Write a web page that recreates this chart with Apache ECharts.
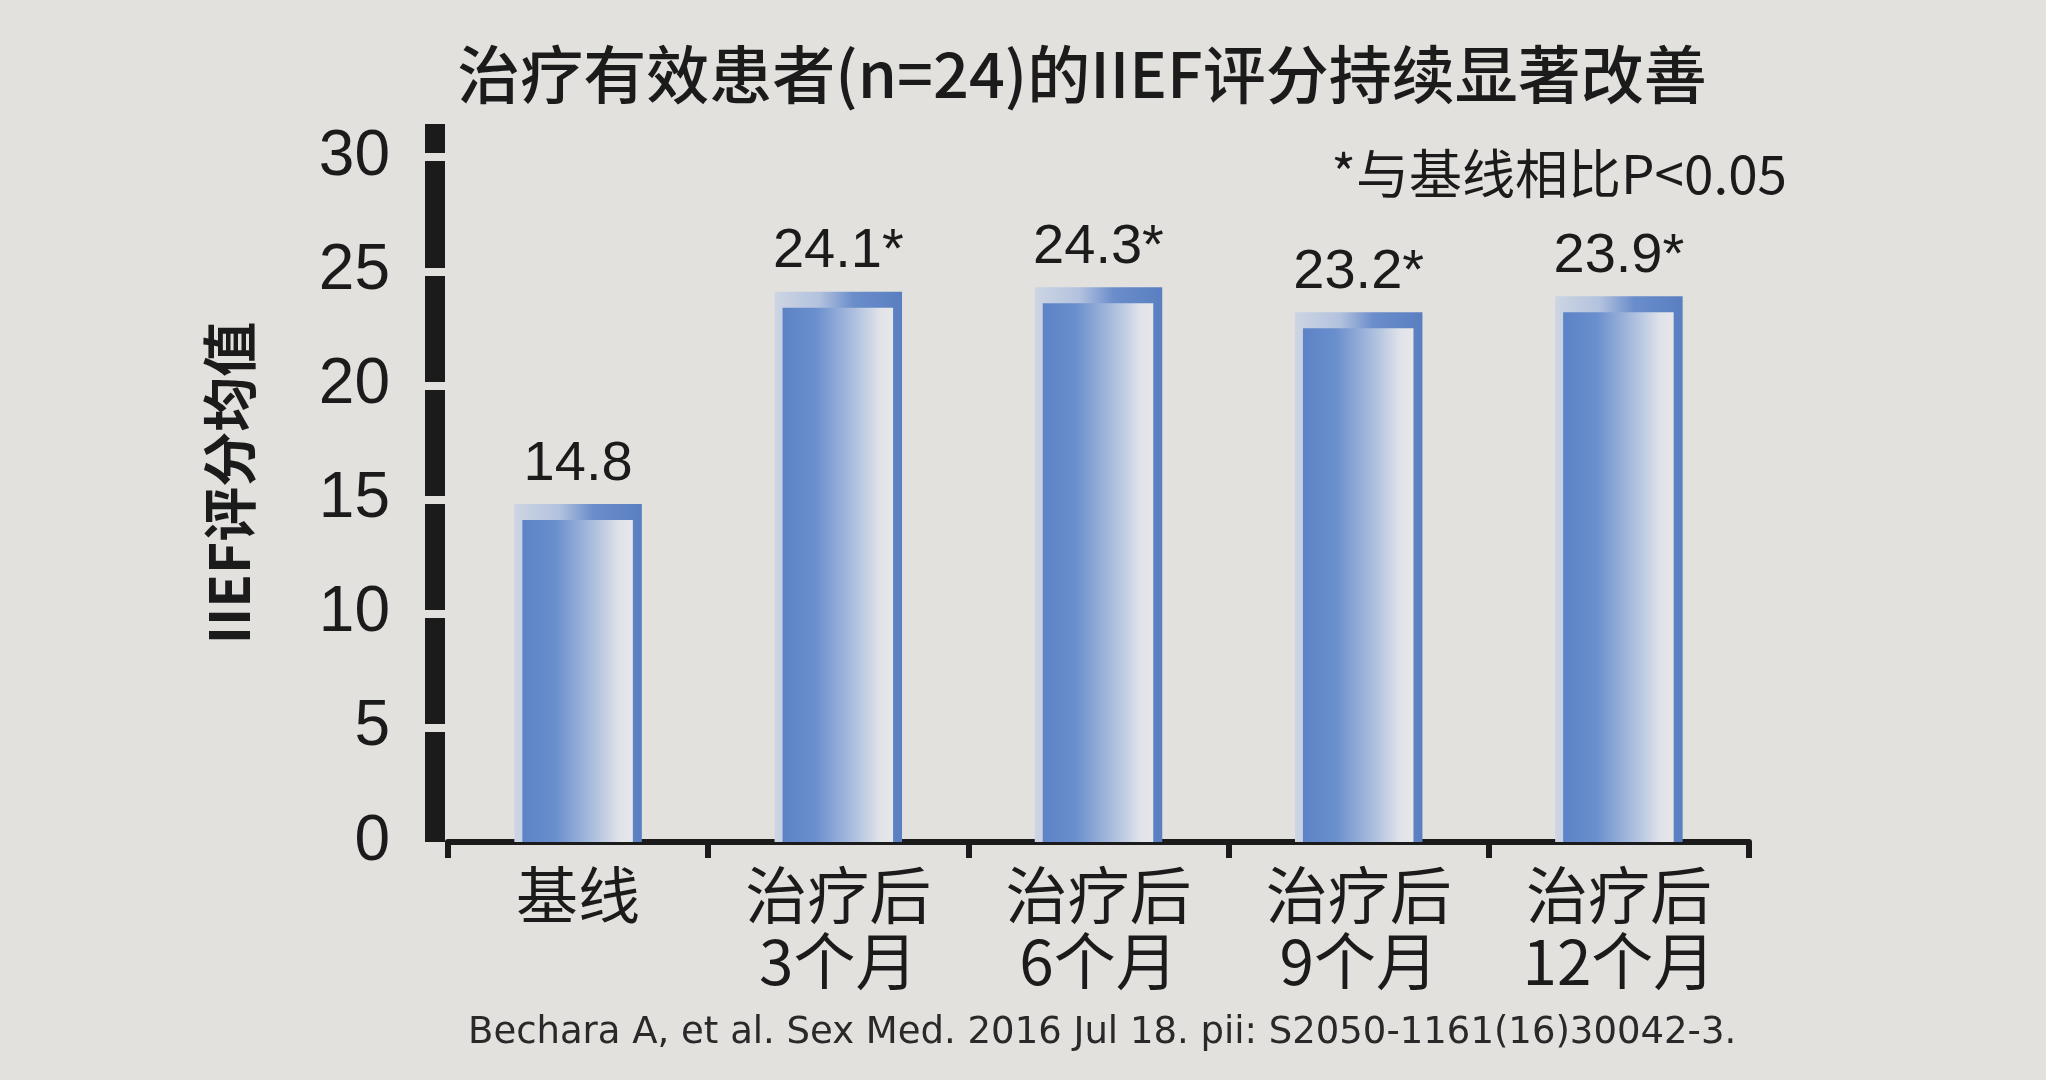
<!DOCTYPE html>
<html>
<head>
    <meta charset="utf-8">
    <title>IIEF评分</title>
    <script src="https://cdn.jsdelivr.net/npm/echarts@6/dist/echarts.min.js"></script>
    <style>
        html, body { margin: 0; padding: 0; background: #e3e1de; }
    </style>
</head>
<body>
    <div id="main" style="width: 2046px;height:1080px;"></div>
    <script type="text/javascript">
        // 数据
        var categories = ['基线', '治疗后\n3个月', '治疗后\n6个月', '治疗后\n9个月', '治疗后\n12个月'];
        var values = [14.8, 24.1, 24.3, 23.2, 23.9];
        var marks = ['', '*', '*', '*', '*'];   // 与基线相比 P<0.05
        var yTicks = [0, 5, 10, 15, 20, 25, 30];

        var bg = '#e3e1de';
        var ink = '#1c1b1b';

        var outerFill = new echarts.graphic.LinearGradient(0, 0, 1, 0, [
            { offset: 0, color: '#cdd5e3' },
            { offset: 0.35, color: '#b3c2de' },
            { offset: 0.62, color: '#6a8dcb' },
            { offset: 1, color: '#5a7fc1' }
        ]);
        var innerFill = new echarts.graphic.LinearGradient(0, 0, 1, 0, [
            { offset: 0, color: '#5c83c7' },
            { offset: 0.3, color: '#6a8fcd' },
            { offset: 0.68, color: '#b4c4e0' },
            { offset: 0.88, color: '#e0e3e9' },
            { offset: 1, color: '#e6e7ea' }
        ]);

        // 柱子：外框 + 内部渐变
        function renderBar(params, api) {
            var base = api.coord([api.value(0), 0]);
            var top = api.coord([api.value(0), api.value(1)]);
            var w = api.size([1, 0])[0] * 0.49;
            var x = base[0] - w / 2;
            var h = base[1] - top[1];
            return {
                type: 'group',
                children: [
                    { type: 'rect', shape: { x: x, y: top[1], width: w, height: h }, style: { fill: outerFill } },
                    { type: 'rect', shape: { x: x + 8, y: top[1] + 16, width: w - 17, height: h - 16 }, style: { fill: innerFill } }
                ]
            };
        }

        var myChart = echarts.init(document.getElementById('main'));
        myChart.setOption({
            backgroundColor: bg,
            animation: false,
            title: [{
                text: '治疗有效患者(n=24)的IIEF评分持续显著改善',
                left: 1077,
                textAlign: 'center',
                top: 38,
                textStyle: { fontFamily: 'Noto Sans CJK SC', fontSize: 63, fontWeight: 500, color: ink }
            }, {
                text: '*与基线相比P<0.05',
                right: 254,
                top: 142,
                textStyle: { fontFamily: 'Noto Sans CJK SC', fontSize: 53, fontWeight: 'normal', color: ink }
            }, {
                text: 'Bechara A, et al. Sex Med. 2016 Jul 18. pii: S2050-1161(16)30042-3.',
                left: 463,
                top: 1010,
                textStyle: { fontFamily: 'DejaVu Sans', fontSize: 37, fontWeight: 'normal', color: '#2a2929' }
            }],
            grid: { left: 448, right: 297, top: 124, bottom: 238 },
            xAxis: {
                type: 'category',
                data: categories,
                axisLine: { lineStyle: { color: ink, width: 6 } },
                axisTick: { show: true, length: 16, lineStyle: { color: ink, width: 6 } },
                axisLabel: {
                    margin: 20,
                    fontFamily: 'Noto Sans CJK SC',
                    fontSize: 62,
                    lineHeight: 66,
                    color: ink
                }
            },
            yAxis: [{
                type: 'value',
                min: 0,
                max: 31.45,
                interval: 5,
                offset: 13,
                name: 'IIEF评分均值',
                nameLocation: 'middle',
                nameRotate: 90,
                nameGap: 178,
                nameTextStyle: { fontFamily: 'Noto Sans CJK SC', fontSize: 55, fontWeight: 'bold', color: ink },
                axisLine: { show: true, lineStyle: { color: ink, width: 20, cap: 'butt' } },
                axisTick: { show: true, inside: false, length: 11, customValues: yTicks.slice(1), lineStyle: { color: bg, width: 8 } },
                axisLabel: { margin: 45, customValues: yTicks, fontFamily: 'Liberation Sans', fontSize: 64, color: ink },
                splitLine: { show: false }
            }, {
                type: 'value',
                min: 0,
                max: 31.45,
                interval: 5,
                offset: 13,
                position: 'left',
                z: 3,
                axisLine: { show: false },
                axisTick: { show: true, inside: true, length: 11, customValues: yTicks.slice(1), lineStyle: { color: bg, width: 8 } },
                axisLabel: { show: false },
                splitLine: { show: false }
            }],
            series: [{
                type: 'custom',
                renderItem: renderBar,
                encode: { x: 0, y: 1 },
                data: values.map(function (v, i) { return [i, v]; }),
                z: 2
            }, {
                type: 'bar',
                data: values,
                barWidth: '49%',
                itemStyle: { color: 'rgba(0,0,0,0)' },
                label: {
                    show: true,
                    position: 'top',
                    distance: 12,
                    fontFamily: 'Liberation Sans',
                    fontSize: 56,
                    color: ink,
                    formatter: function (p) { return p.value + marks[p.dataIndex]; }
                },
                z: 3
            }]
        });
    </script>
</body>
</html>
